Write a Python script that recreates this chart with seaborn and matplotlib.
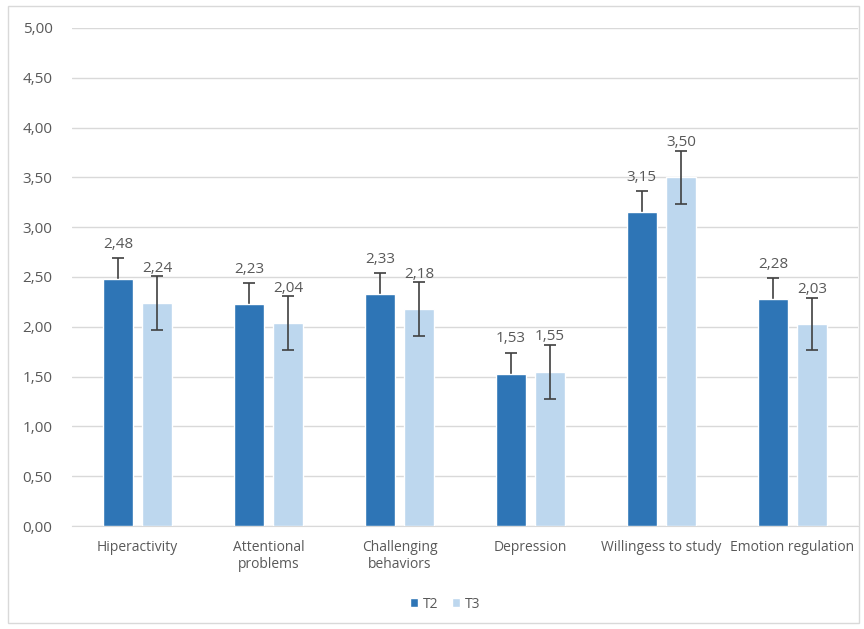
import pandas as pd
import matplotlib
matplotlib.use("Agg")
import matplotlib.pyplot as plt
import seaborn as sns
from matplotlib.patches import Rectangle
from matplotlib.ticker import FuncFormatter

# --- data ---
categories = ["Hiperactivity", "Attentional\nproblems", "Challenging\nbehaviors",
              "Depression", "Willingess to study", "Emotion regulation"]
t2_values = [2.48, 2.23, 2.33, 1.53, 3.15, 2.28]
t3_values = [2.24, 2.04, 2.18, 1.55, 3.50, 2.03]
t2_errors = [0.21, 0.21, 0.21, 0.21, 0.21, 0.21]
t3_errors = [0.27, 0.27, 0.27, 0.27, 0.27, 0.26]
series = ["T2", "T3"]

df = pd.DataFrame({
    "category": categories * 2,
    "value": t2_values + t3_values,
    "err": t2_errors + t3_errors,
    "series": ["T2"] * len(categories) + ["T3"] * len(categories),
})

sns.set_style("white")
plt.rcParams["font.family"] = ["Open Sans", "DejaVu Sans"]
text_color = "#595959"
palette = {"T2": "#2E75B6", "T3": "#BDD7EE"}

fig = plt.figure(figsize=(8.64, 6.29), dpi=100)
ax = fig.add_axes([72 / 864, 1 - 526 / 629, 786 / 864, 498 / 629])

sns.barplot(data=df, x="category", y="value", hue="series", palette=palette,
            width=0.6, gap=0.25, saturation=1, errorbar=None, ax=ax, legend=True)
for p in ax.patches:
    p.set_zorder(3)

# error bars and value labels on each bar
# (the dark T2 bars hide the lower half of their error bars)
for container, name in zip(ax.containers, series):
    sub = df[df["series"] == name]
    ez = 2 if name == "T2" else 5
    for patch, val, err in zip(container.patches, sub["value"], sub["err"]):
        xc = patch.get_x() + patch.get_width() / 2
        ax.errorbar(xc, val, yerr=err, fmt="none", ecolor="#404040",
                    elinewidth=1.2, capsize=4, capthick=1.2, zorder=ez)
        ax.annotate(f"{val:.2f}".replace(".", ","), (xc, val),
                    xytext=(0, 25), textcoords="offset points",
                    ha="center", va="center", fontsize=11, color=text_color)

ax.set_ylim(0, 5)
ax.set_xlim(-0.5, 5.5)
ax.set_yticks([i * 0.5 for i in range(11)])
ax.yaxis.set_major_formatter(FuncFormatter(lambda v, p: f"{v:.2f}".replace(".", ",")))
ax.grid(axis="y", color="#D9D9D9", linewidth=1)
ax.set_axisbelow(True)
for s in ["top", "right", "left"]:
    ax.spines[s].set_visible(False)
ax.spines["bottom"].set_color("#D9D9D9")
ax.tick_params(axis="both", length=0, labelcolor=text_color)
ax.tick_params(axis="y", pad=14, labelsize=11)
ax.tick_params(axis="x", pad=10, labelsize=10)
ax.set_xlabel("")
ax.set_ylabel("")

leg = ax.legend(loc="center", bbox_to_anchor=(445 / 864, 1 - 604 / 629),
                bbox_transform=fig.transFigure, ncol=2, frameon=False,
                handlelength=0.6, handleheight=0.6, handletextpad=0.3,
                columnspacing=1.0, fontsize=10)
for t in leg.get_texts():
    t.set_color(text_color)

# light frame around the chart area
fig.patches.append(Rectangle((8 / 864, 0.01), 0.985, 0.98, transform=fig.transFigure,
                             fill=False, edgecolor="#D9D9D9", linewidth=1))

fig.savefig("out.png", dpi=100)
